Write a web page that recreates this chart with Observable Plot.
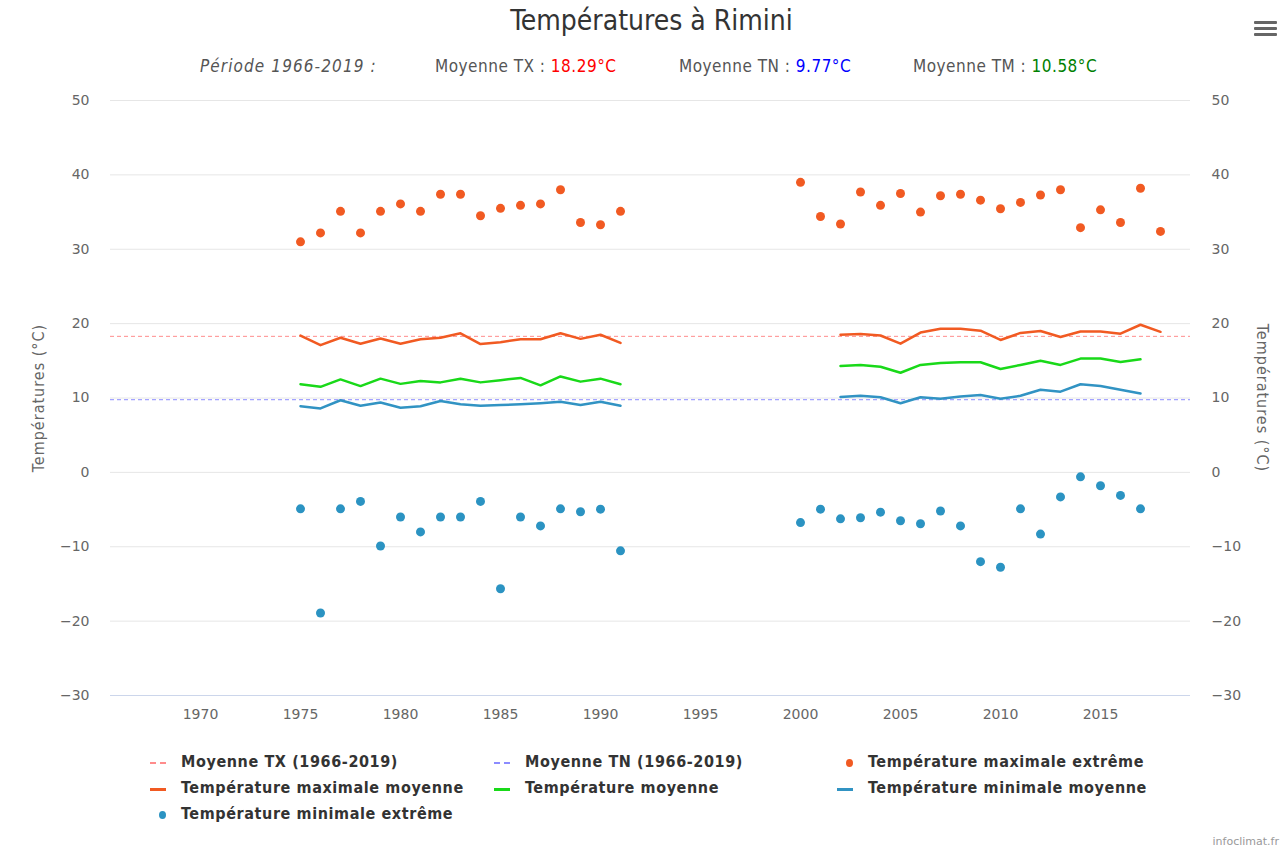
<!DOCTYPE html>
<html><head><meta charset="utf-8">
<script src="https://cdn.jsdelivr.net/npm/d3@7"></script>
<script src="https://cdn.jsdelivr.net/npm/@observablehq/plot@0.6"></script>
<style>
body{margin:0;background:#fff;width:1283px;height:850px;position:relative;overflow:hidden;font-family:"DejaVu Sans Condensed","DejaVu Sans",sans-serif;}
#title{position:absolute;top:4px;left:0;width:1303px;text-align:center;font-size:28px;color:#333;}
.sub{position:absolute;top:56px;font-size:17px;letter-spacing:0.5px;color:#555;white-space:nowrap;}
#chart{position:absolute;top:80px;left:0;}
.leg{position:absolute;font-size:16px;letter-spacing:0.6px;font-weight:bold;color:#333;white-space:nowrap;}
.sym{position:absolute;}
#menu{position:absolute;left:1254px;top:21px;width:23px;}
#menu div{height:3px;background:#666;margin-bottom:3px;border-radius:1px;}
#credit{position:absolute;right:4px;top:835px;font-size:11px;color:#999;font-family:"DejaVu Sans",sans-serif;}
</style></head>
<body>
<div id="title">Températures à Rimini</div>
<div class="sub" style="left:200px;font-style:italic;letter-spacing:1.1px">Période 1966-2019 :</div>
<div class="sub" style="left:435px">Moyenne TX : <span style="color:#ff0000">18.29°C</span></div>
<div class="sub" style="left:679px">Moyenne TN : <span style="color:#0000ff">9.77°C</span></div>
<div class="sub" style="left:913px">Moyenne TM : <span style="color:#008000">10.58°C</span></div>
<div id="menu"><div></div><div></div><div></div></div>
<div id="chart"></div>
<div id="legend"></div>
<div id="credit">infoclimat.fr</div>
<script>
// ---- data ----
const meanTX = 18.29, meanTN = 9.77;
const yearsA = [1975,1976,1977,1978,1979,1980,1981,1982,1983,1984,1985,1986,1987,1988,1989,1990,1991];
const txExtA = [31.0,32.2,35.1,32.2,35.1,36.1,35.1,37.4,37.4,34.5,35.5,35.9,36.1,38.0,33.6,33.3,35.1];
const txMeanA = [18.4,17.1,18.1,17.3,18.0,17.3,17.9,18.1,18.7,17.25,17.5,17.9,17.9,18.7,17.95,18.5,17.4];
const tmA = [11.85,11.5,12.5,11.6,12.6,11.9,12.3,12.1,12.6,12.1,12.4,12.7,11.7,12.9,12.2,12.6,11.85];
const tnMeanA = [8.9,8.6,9.7,8.95,9.4,8.7,8.9,9.6,9.15,8.95,9.05,9.15,9.3,9.5,9.05,9.5,8.95];
const tnExtA = [-4.9,-18.9,-4.9,-3.9,-9.9,-6.0,-8.0,-6.0,-6.0,-3.9,-15.65,-6.0,-7.2,-4.9,-5.3,-4.95,-10.55];

const yearsTxExtB = [2000,2001,2002,2003,2004,2005,2006,2007,2008,2009,2010,2011,2012,2013,2014,2015,2016,2017,2018];
const txExtB = [39.0,34.4,33.4,37.7,35.9,37.5,35.0,37.2,37.4,36.6,35.45,36.3,37.3,38.0,32.9,35.3,33.6,38.2,32.4];
const yearsTnExtB = [2000,2001,2002,2003,2004,2005,2006,2007,2008,2009,2010,2011,2012,2013,2014,2015,2016,2017];
const tnExtB = [-6.75,-4.95,-6.25,-6.1,-5.35,-6.5,-6.9,-5.2,-7.2,-12.0,-12.75,-4.9,-8.3,-3.3,-0.6,-1.8,-3.1,-4.9];
const yearsTxMeanB = [2002,2003,2004,2005,2006,2007,2008,2009,2010,2011,2012,2013,2014,2015,2016,2017,2018];
const txMeanB = [18.5,18.6,18.4,17.3,18.8,19.3,19.3,19.05,17.8,18.75,19.0,18.2,18.95,18.95,18.65,19.85,18.9];
const yearsB = [2002,2003,2004,2005,2006,2007,2008,2009,2010,2011,2012,2013,2014,2015,2016,2017];
const tmB = [14.3,14.45,14.2,13.4,14.45,14.7,14.8,14.8,13.9,14.45,15.0,14.45,15.3,15.3,14.85,15.2];
const tnMeanB = [10.15,10.3,10.1,9.3,10.1,9.9,10.2,10.4,9.9,10.3,11.1,10.85,11.85,11.6,11.1,10.6];

const yTicks = [-30,-20,-10,0,10,20,30,40,50];
const xTicks = [1970,1975,1980,1985,1990,1995,2000,2005,2010,2015];
const seriesNames = ["Moyenne TX (1966-2019)","Moyenne TN (1966-2019)","Température maximale extrême",
  "Température maximale moyenne","Température moyenne","Température minimale moyenne","Température minimale extrême"];
const axisTitle = "Températures (°C)";

const C = {tx:"#f15a22", tm:"#19d919", tn:"#3193c3", tnDot:"#2b93c2", mTX:"#ff8c8c", mTN:"#8c8cff"};

const zip = (ys, vs, seg) => ys.map((y,i) => ({year:y, v:vs[i], seg}));
const txExt = [...zip(yearsA, txExtA, "A"), ...zip(yearsTxExtB, txExtB, "B")];
const tnExt = [...zip(yearsA, tnExtA, "A"), ...zip(yearsTnExtB, tnExtB, "B")];
const txMean = [...zip(yearsA, txMeanA, "A"), ...zip(yearsTxMeanB, txMeanB, "B")];
const tm = [...zip(yearsA, tmA, "A"), ...zip(yearsB, tmB, "B")];
const tnMean = [...zip(yearsA, tnMeanA, "A"), ...zip(yearsB, tnMeanB, "B")];

const chart = Plot.plot({
  width: 1283, height: 650,
  marginTop: 20, marginBottom: 35, marginLeft: 110, marginRight: 93,
  x: {domain: [1965.5, 2019.5]},
  y: {domain: [-30, 50]},
  style: {fontFamily: "DejaVu Sans, sans-serif", fontSize: "14px", color: "#666", background: "transparent"},
  marks: [
    Plot.gridY(yTicks, {stroke: "#e6e6e6", strokeOpacity: 1}),
    Plot.ruleY([-30], {stroke: "#ccd6eb"}),
    Plot.axisY(yTicks, {anchor: "left", tickSize: 0, tickPadding: 21, label: null, fontSize: 14}),
    Plot.axisY(yTicks, {anchor: "right", tickSize: 0, tickPadding: 21, label: null, fontSize: 14}),
    Plot.axisX(xTicks, {tickSize: 0, tickPadding: 14, tickFormat: d => String(d), label: null, fontSize: 14}),
    Plot.text([axisTitle], {frameAnchor: "left", dx: -72, rotate: -90, textAnchor: "middle", fill: "#666", fontSize: 16, fontFamily: "DejaVu Sans Condensed, sans-serif"}),
    Plot.text([axisTitle], {frameAnchor: "right", dx: 72, rotate: 90, textAnchor: "middle", fill: "#666", fontSize: 16, fontFamily: "DejaVu Sans Condensed, sans-serif"}),
    Plot.ruleY([meanTX], {stroke: C.mTX, strokeDasharray: "4,3", strokeWidth: 1}),
    Plot.ruleY([meanTN], {stroke: C.mTN, strokeDasharray: "4,3", strokeWidth: 1}),
    Plot.line(txMean, {x: "year", y: "v", z: "seg", stroke: C.tx, strokeWidth: 2.5}),
    Plot.line(tm, {x: "year", y: "v", z: "seg", stroke: C.tm, strokeWidth: 2.5}),
    Plot.line(tnMean, {x: "year", y: "v", z: "seg", stroke: C.tn, strokeWidth: 2.5}),
    Plot.dot(txExt, {x: "year", y: "v", r: 4.5, fill: C.tx}),
    Plot.dot(tnExt, {x: "year", y: "v", r: 4.5, fill: C.tnDot})
  ]
});
document.getElementById("chart").appendChild(chart);
chart.querySelectorAll("text").forEach(t => { if (t.textContent === axisTitle) t.setAttribute("letter-spacing", "1px"); });

// ---- legend ----
const legItems = [
  {name: seriesNames[0], type: "dash", color: C.mTX, x: 150, y: 763},
  {name: seriesNames[1], type: "dash", color: C.mTN, x: 494, y: 763},
  {name: seriesNames[2], type: "dot", color: C.tx, x: 837, y: 763},
  {name: seriesNames[3], type: "line", color: C.tx, x: 150, y: 789},
  {name: seriesNames[4], type: "line", color: C.tm, x: 494, y: 789},
  {name: seriesNames[5], type: "line", color: C.tn, x: 837, y: 789},
  {name: seriesNames[6], type: "dot", color: C.tnDot, x: 150, y: 815}
];
const leg = document.getElementById("legend");
legItems.forEach(it => {
  const s = document.createElement("div");
  s.className = "sym";
  if (it.type === "dash") {
    s.style.cssText = `left:${it.x}px;top:${it.y-1}px;width:16px;height:0;border-top:2px dashed ${it.color};`;
  } else if (it.type === "line") {
    s.style.cssText = `left:${it.x}px;top:${it.y-1.5}px;width:16px;height:3px;background:${it.color};`;
  } else {
    s.style.cssText = `left:${it.x+9}px;top:${it.y-4}px;width:7px;height:8px;border-radius:50%;background:${it.color};`;
  }
  leg.appendChild(s);
  const t = document.createElement("div");
  t.className = "leg";
  t.textContent = it.name;
  t.style.left = (it.x + 31) + "px";
  t.style.top = (it.y - 11) + "px";
  leg.appendChild(t);
});
</script>
</body></html>
